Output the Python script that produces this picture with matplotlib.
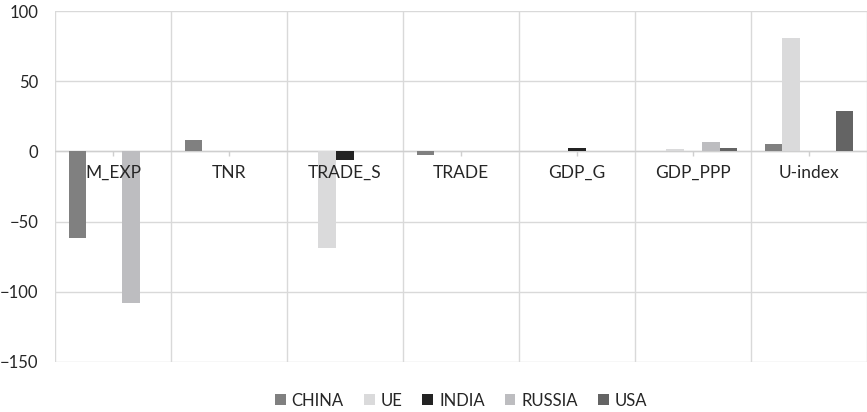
import matplotlib
import numpy as np

matplotlib.use('agg')
import matplotlib.pyplot as plt

categories = ['M_EXP', 'TNR', 'TRADE_S', 'TRADE', 'GDP_G', 'GDP_PPP', 'U-index']
countries = ['CHINA', 'UE', 'INDIA', 'RUSSIA', 'USA']

china = [-61.5, 8.4, 0.0, -2.5, 0.0, 0.5, 5.3]
ue = [0.0, 0.0, -68.5, 0.0, 0.0, 1.8, 81.0]
india = [0.0, 0.0, -6.0, 0.0, 2.5, 0.5, 0.0]
russia = [-108.0, 0.0, 0.0, 0.0, 0.0, 6.5, 0.0]
usa = [0.0, 0.0, 0.0, 0.0, 0.0, 2.4, 29.0]

colors = ['#808080', '#dadadb', '#232323', '#bdbdc0', '#646464']
grid_col = '#d9d9d9'

plt.rcParams['font.family'] = ['Lato', 'DejaVu Sans']
plt.rcParams['font.size'] = 12

fig = plt.figure(figsize=(8.67, 4.12), dpi=100)
ax = fig.add_axes([55 / 867, 1 - 362 / 412, 812 / 867, 351 / 412])

x = np.arange(len(categories))
w = 0.153
series = [china, ue, india, russia, usa]
for k, (name, vals) in enumerate(zip(countries, series)):
    ax.bar(x + (k - 2) * w, vals, w, color=colors[k], label=name, zorder=3)

ax.set_xlim(-0.5, len(categories) - 0.5)
ax.set_ylim(-150, 100)
ax.set_yticks(np.arange(-150, 101, 50))

# vertical gridlines between categories, horizontal at every 50
for b in np.arange(-0.5, len(categories), 1.0):
    ax.axvline(b, color=grid_col, lw=1, zorder=1)
ax.grid(axis='y', color=grid_col, lw=1, zorder=1)
ax.axhline(0, color='#cfcfcf', lw=1, zorder=2)
ax.vlines(x, -3.2, 0, color='#cfcfcf', lw=1, zorder=2)

for s in ax.spines.values():
    s.set_visible(False)
ax.set_xticks([])
ax.tick_params(axis='y', length=0, pad=12, labelsize=12, labelcolor='#262626')

for i, c in enumerate(categories):
    ax.text(i, -15.5, c, ha='center', va='center', fontsize=12.5, color='#262626', zorder=4)

ax.legend(loc='center', bbox_to_anchor=(0.5, -0.11),
          ncol=5, frameon=False, handlelength=0.65, handleheight=0.65,
          handletextpad=0.35, columnspacing=1.2, fontsize=12, labelcolor='#262626')

fig.savefig('out.png', dpi=100)
